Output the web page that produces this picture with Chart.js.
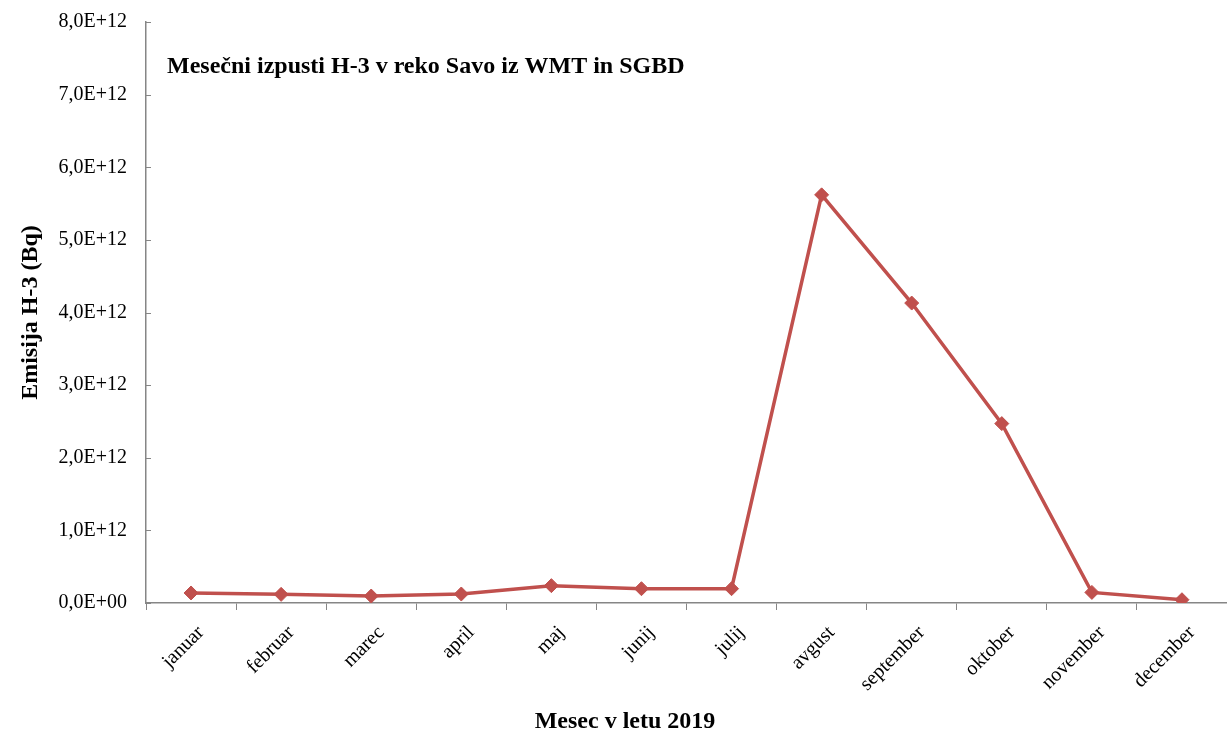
<!DOCTYPE html>
<html>
<head>
<meta charset="utf-8">
<script src="https://cdn.jsdelivr.net/npm/chart.js@4/dist/chart.umd.min.js"></script>
<style>
  html, body { margin: 0; padding: 0; background: #ffffff; }
  #wrap { width: 1227px; height: 731px; position: relative; }
</style>
</head>
<body>
<div id="wrap"><canvas id="c"></canvas></div>
<script>
const months = ['januar', 'februar', 'marec', 'april', 'maj', 'junij', 'julij', 'avgust', 'september', 'oktober', 'november', 'december'];
const emissions = [1.38e11, 1.19e11, 0.96e11, 1.24e11, 2.39e11, 1.97e11, 1.97e11, 5.62e12, 4.13e12, 2.47e12, 1.46e11, 0.45e11];
const yTickLabels = ['0,0E+00', '1,0E+12', '2,0E+12', '3,0E+12', '4,0E+12', '5,0E+12', '6,0E+12', '7,0E+12', '8,0E+12'];
const chartTitle = 'Mesečni izpusti H-3 v reko Savo iz WMT in SGBD';
const xTitle = 'Mesec v letu 2019';
const yTitle = 'Emisija H-3 (Bq)';

const FONT = "'Liberation Serif', 'Times New Roman', serif";
const AXIS = '#868686';
const RED = '#C0504D';

const textPlugin = {
  id: 'textPlugin',
  afterDraw(chart) {
    const ctx = chart.ctx;
    const a = chart.chartArea;
    const ys = chart.scales.y;
    ctx.save();
    // inward y tick marks
    ctx.strokeStyle = AXIS;
    ctx.lineWidth = 1;
    ys.ticks.forEach((t, i) => {
      const py = Math.round(ys.getPixelForTick(i)) + 0.5;
      ctx.beginPath();
      ctx.moveTo(a.left, py);
      ctx.lineTo(a.left + 5, py);
      ctx.stroke();
    });
    ctx.fillStyle = '#000';
    ctx.font = "bold 24px " + FONT;
    ctx.textBaseline = 'alphabetic';
    ctx.textAlign = 'left';
    ctx.fillText(chartTitle, a.left + 21, a.top + 51);
    ctx.textAlign = 'center';
    ctx.fillText(xTitle, (a.left + a.right) / 2 - 61.5, chart.height - 3.5);
    ctx.translate(36.5, (a.top + a.bottom) / 2);
    ctx.rotate(-Math.PI / 2);
    ctx.fillText(yTitle, 0, 0);
    ctx.restore();
  }
};

new Chart(document.getElementById('c'), {
  type: 'line',
  data: {
    labels: months,
    datasets: [{
      label: 'H-3',
      data: emissions,
      borderColor: RED,
      backgroundColor: RED,
      borderWidth: 3.5,
      pointStyle: 'rectRot',
      pointRadius: 7,
      pointHoverRadius: 7,
      pointBackgroundColor: RED,
      pointBorderColor: RED,
      pointBorderWidth: 1,
      tension: 0,
      fill: false
    }]
  },
  options: {
    responsive: true,
    maintainAspectRatio: false,
    animation: false,
    layout: { autoPadding: false, padding: { top: 22, right: 0, bottom: 0, left: 0 } },
    plugins: {
      legend: { display: false },
      title: { display: false },
      tooltip: { enabled: false }
    },
    scales: {
      x: {
        type: 'category',
        offset: true,
        afterFit(scale) { scale.height = 128; scale.paddingRight = 0; scale.paddingLeft = 0; },
        grid: {
          display: true,
          offset: true,
          drawOnChartArea: false,
          drawTicks: true,
          tickLength: 7,
          color: AXIS,
          lineWidth: 1
        },
        border: { display: true, color: AXIS, width: 1.5 },
        ticks: {
          color: '#000',
          font: { family: FONT, size: 20 },
          minRotation: 45,
          maxRotation: 45,
          autoSkip: false,
          padding: 11,
          labelOffset: 10
        }
      },
      y: {
        min: 0,
        max: 8e12,
        afterFit(scale) { scale.width = 146; scale.paddingTop = 0; scale.paddingBottom = 0; },
        grid: { display: true, drawOnChartArea: false, drawTicks: false },
        border: { display: true, color: AXIS, width: 1.5 },
        ticks: {
          stepSize: 1e12,
          color: '#000',
          font: { family: FONT, size: 20 },
          padding: 19,
          callback: (v, i) => yTickLabels[i]
        }
      }
    }
  },
  plugins: [textPlugin]
});
</script>
</body>
</html>
